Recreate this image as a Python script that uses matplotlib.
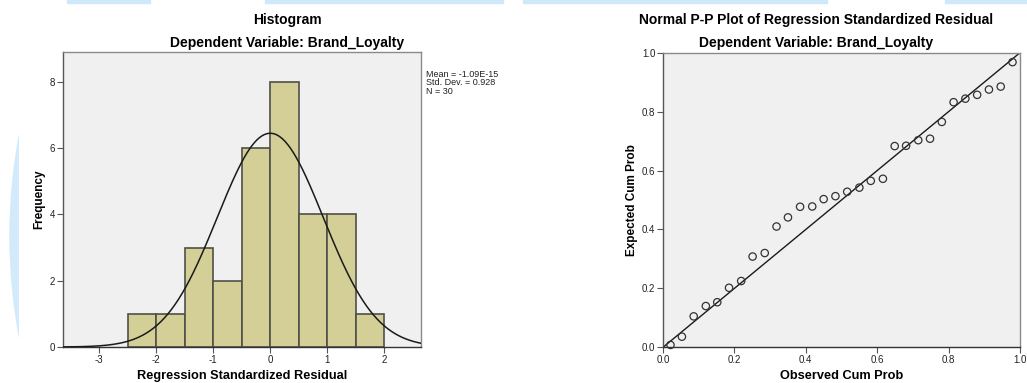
import numpy as np
import matplotlib
matplotlib.use('Agg')
import matplotlib.pyplot as plt
from matplotlib.patches import Circle, Rectangle

plt.rcParams['font.family'] = ['Liberation Sans', 'DejaVu Sans']
plt.rcParams['axes.unicode_minus'] = False

# histogram of regression standardized residuals (bin width 0.5)
bin_edges = [-2.5, -2.0, -1.5, -1.0, -0.5, 0.0, 0.5, 1.0, 1.5, 2.0]
bin_counts = [1, 1, 3, 2, 6, 8, 4, 4, 1]
res_mean = -1.09e-15
res_sd = 0.928
res_n = 30

# normal P-P plot points
obs_cum = [0.021, 0.053, 0.086, 0.120, 0.152, 0.185, 0.219, 0.251, 0.285, 0.318,
           0.350, 0.384, 0.418, 0.450, 0.483, 0.516, 0.550, 0.582, 0.616, 0.649,
           0.681, 0.715, 0.748, 0.781, 0.814, 0.847, 0.880, 0.913, 0.946, 0.979]
exp_cum = [0.008, 0.036, 0.105, 0.140, 0.153, 0.202, 0.225, 0.308, 0.320, 0.410,
           0.441, 0.477, 0.478, 0.503, 0.513, 0.528, 0.542, 0.565, 0.572, 0.683,
           0.684, 0.703, 0.708, 0.765, 0.832, 0.844, 0.857, 0.875, 0.885, 0.968]

W, H = 1027, 383
fig = plt.figure(figsize=(W / 100, H / 100), dpi=100)
fig.patch.set_facecolor('white')

# faint page decoration from the screenshot (top band + left arc)
for x0, x1 in [(67, 150), (265, 503), (523, 827), (945, 1027)]:
    fig.patches.append(Rectangle((x0 / W, 1 - 2.5 / H), (x1 - x0) / W, 2.5 / H,
                                 transform=fig.transFigure, color='#cfe8fa', zorder=0))
clip = Rectangle((0, 0), 19, H, transform=None)
arc = Circle((559, H - 236), 549, transform=None, color='#d3eafb', zorder=0)
fig.patches.append(arc)
arc.set_clip_path(clip)

def px_axes(x0, y0, x1, y1):
    return fig.add_axes([x0 / W, 1 - y1 / H, (x1 - x0) / W, (y1 - y0) / H])

def style_axes(ax):
    ax.set_facecolor('#f0f0f0')
    for s in ax.spines.values():
        s.set_color('#8a8a8a')
        s.set_linewidth(1.0)
    ax.spines['left'].set_color('#555555')
    ax.spines['bottom'].set_color('#333333')
    ax.tick_params(direction='out', length=4, width=0.8, color='#555555',
                   labelsize=7, labelcolor='#222222', pad=1.5)

# ---- histogram ----
ax1 = px_axes(63, 52, 421, 347)
style_axes(ax1)
widths = np.diff(bin_edges)
ax1.bar(bin_edges[:-1], bin_counts, width=widths, align='edge',
        color='#d3cf97', edgecolor='#505048', linewidth=1.2, zorder=2)
xs = np.linspace(-3.63, 2.64, 400)
bw = widths[0]
curve = res_n * bw / (res_sd * np.sqrt(2 * np.pi)) * np.exp(-0.5 * ((xs - res_mean) / res_sd) ** 2)
ax1.plot(xs, curve, color='#1a1a1a', linewidth=1.1, zorder=3)
ax1.set_xlim(-3.63, 2.64)
ax1.set_ylim(0, 8.9)
ax1.set_xticks([-3, -2, -1, 0, 1, 2])
ax1.set_yticks([0, 2, 4, 6, 8])
ax1.set_xlabel('Regression Standardized Residual', fontsize=9.2, fontweight='bold', labelpad=4)
ax1.set_ylabel('Frequency', fontsize=8.5, fontweight='bold', labelpad=3)
fig.text(426 / W, 1 - 70 / H,
         'Mean = %.2E\nStd. Dev. = %.3f\nN = %d' % (res_mean, res_sd, res_n),
         fontsize=6.5, va='top', ha='left', linespacing=0.92, color='#222222')
fig.text(287 / W, 1 - 20 / H, 'Histogram', fontsize=10, fontweight='bold',
         ha='center', va='center')
fig.text(287 / W, 1 - 43 / H, 'Dependent Variable: Brand_Loyalty', fontsize=10,
         fontweight='bold', ha='center', va='center')

# ---- P-P plot ----
ax2 = px_axes(663, 52.7, 1020, 347.3)
style_axes(ax2)
ax2.plot([0, 1], [0, 1], color='#1a1a1a', linewidth=1.0, zorder=2)
ax2.scatter(obs_cum, exp_cum, s=28, facecolors='none', edgecolors='#333333',
            linewidths=0.9, zorder=3, clip_on=False)
ax2.set_xlim(0, 1)
ax2.set_ylim(0, 1)
ticks = [0.0, 0.2, 0.4, 0.6, 0.8, 1.0]
ax2.set_xticks(ticks)
ax2.set_yticks(ticks)
ax2.set_xticklabels(['%.1f' % t for t in ticks])
ax2.set_yticklabels(['%.1f' % t for t in ticks])
ax2.set_xlabel('Observed Cum Prob', fontsize=9.2, fontweight='bold', labelpad=4)
ax2.set_ylabel('Expected Cum Prob', fontsize=8.5, fontweight='bold', labelpad=3)
fig.text(816 / W, 1 - 20 / H, 'Normal P-P Plot of Regression Standardized Residual',
         fontsize=10, fontweight='bold', ha='center', va='center')
fig.text(816 / W, 1 - 43 / H, 'Dependent Variable: Brand_Loyalty', fontsize=10,
         fontweight='bold', ha='center', va='center')

fig.savefig('out.png', dpi=100)
